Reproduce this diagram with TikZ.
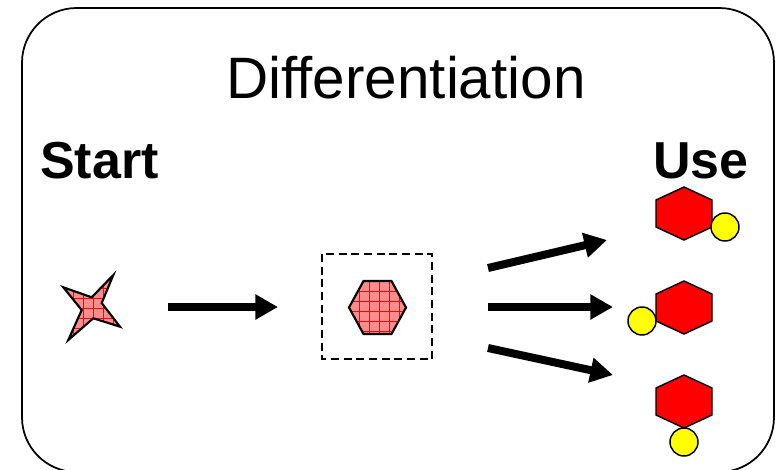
\documentclass[tikz,border=0pt]{standalone}
\usepackage{fontspec}
\setmainfont{Liberation Sans}
\usetikzlibrary{arrows.meta}

\definecolor{hexred}{RGB}{255,0,0}
\definecolor{ballyellow}{RGB}{255,255,0}
\definecolor{gridpink}{RGB}{255,140,140}

\tikzset{
  frame/.style={draw=black, line width=1.3pt, rounded corners=41pt},
  fatarrow/.style={line width=6pt, -{Triangle[length=17pt,width=18pt]}},
  hexbody/.style={draw=black, line width=1.1pt, fill=hexred, line join=miter},
  ball/.style={draw=black, line width=1.1pt, fill=ballyellow},
  outline/.style={draw=black, line width=1.6pt, line join=miter},
  gridlines/.style={draw=red, line width=0.45pt},
  holdbox/.style={draw=black, line width=1.1pt, dash pattern=on 6pt off 3.5pt},
  txt/.style={inner sep=0pt, anchor=base},
  pics/usehex/.style={code={
    \draw[hexbody] (0,-26.5) -- (28,-13.5) -- (28,13.5) -- (0,26.5)
                   -- (-28,13.5) -- (-28,-13.5) -- cycle;
  }},
}

\begin{document}
\begin{tikzpicture}[x=0.75pt, y=-0.75pt]
  \useasboundingbox (0,0) rectangle (776,469);
  \clip (0,0) rectangle (776,469);

  % outer rounded frame
  \draw[frame] (22,8) rectangle (774,472);

  % labels
  \node[txt, font=\fontsize{43.8pt}{50pt}\selectfont] (title) at (406,98) {Differentiation};
  \node[txt, anchor=base west, font=\fontsize{39pt}{45pt}\selectfont\bfseries] (start) at (40,178) {Start};
  \node[txt, anchor=base west, font=\fontsize{39pt}{45pt}\selectfont\bfseries] (use) at (653,178) {Use};

  % four-pointed star (starting cell)
  \def\starpath{(113.3,275) -- (101.7,303) -- (120,326.7) -- (93.3,318.3)
    -- (68.3,340) -- (81.7,310) -- (63.3,287.3) -- (91.7,297.3) -- cycle}
  \begin{scope}
    \clip \starpath;
    \fill[gridpink] (55,265) rectangle (130,350);
    \foreach \g in {53,63,...,133} {
      \draw[gridlines] (\g,265) -- (\g,350);
    }
    \foreach \g in {268,278,...,348} {
      \draw[gridlines] (55,\g) -- (130,\g);
    }
  \end{scope}
  \draw[outline] \starpath;

  % intermediate cell in dashed box
  \draw[holdbox] (322,254) rectangle (432,359);
  \def\midhex{(349,307.5) -- (363.5,281) -- (391.5,281) -- (406,307.5)
    -- (391.5,334) -- (363.5,334) -- cycle}
  \begin{scope}
    \clip \midhex;
    \fill[gridpink] (345,278) rectangle (410,338);
    \foreach \g in {349,359,...,409} {
      \draw[gridlines] (\g,278) -- (\g,338);
    }
    \foreach \g in {281,291,...,341} {
      \draw[gridlines] (345,\g) -- (410,\g);
    }
  \end{scope}
  \draw[outline] \midhex;

  % arrows
  \coordinate (a0s) at (168,307);  \coordinate (a0e) at (278,307);
  \coordinate (a1s) at (488,268);  \coordinate (a1e) at (607,240);
  \coordinate (a2s) at (488,307);  \coordinate (a2e) at (613,307);
  \coordinate (a3s) at (488,348);  \coordinate (a3e) at (613,375);
  \draw[fatarrow] (a0s) -- (a0e);
  \draw[fatarrow] (a1s) -- (a1e);
  \draw[fatarrow] (a2s) -- (a2e);
  \draw[fatarrow] (a3s) -- (a3e);

  % differentiated products
  \pic at (684,213.5) {usehex};
  \draw[ball] (725,227) circle[radius=10.5pt];
  \pic at (684,307.5) {usehex};
  \draw[ball] (642,321) circle[radius=10.5pt];
  \pic at (684,401.5) {usehex};
  \draw[ball] (684,442) circle[radius=10.5pt];
\end{tikzpicture}
\end{document}
